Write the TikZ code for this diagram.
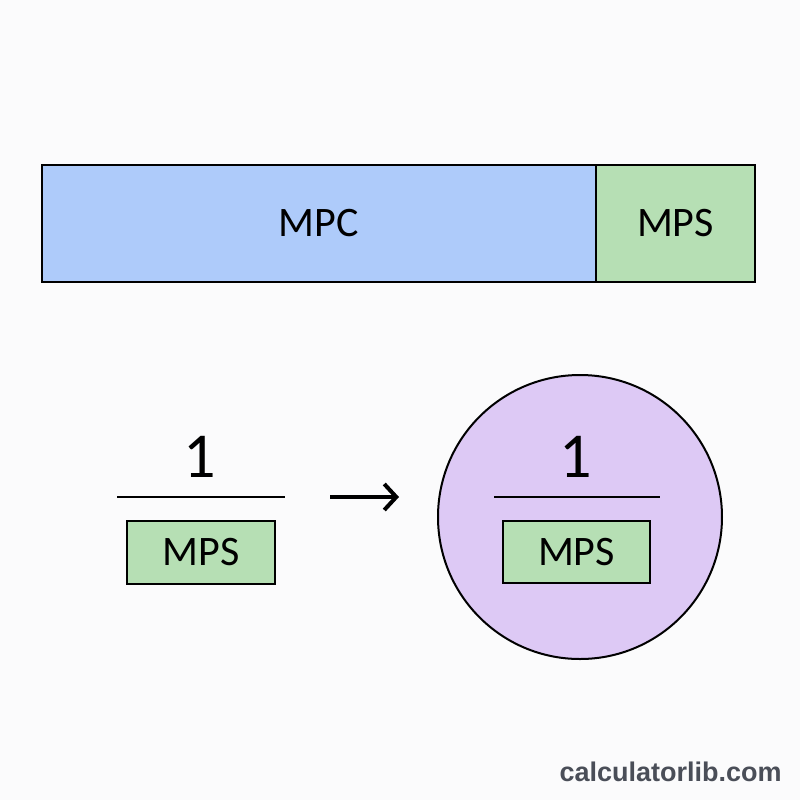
\documentclass[tikz,border=0pt]{standalone}
\usepackage{fontspec}
\setmainfont{Carlito}
\newfontfamily\markfont{Liberation Sans}
\usetikzlibrary{arrows.meta}
\definecolor{mpcBlue}{HTML}{AECBFA}
\definecolor{mpsGreen}{HTML}{B6DFB4}
\definecolor{multLilac}{HTML}{DDC9F5}
\definecolor{markGrey}{HTML}{4A4E58}
\definecolor{paper}{HTML}{FBFBFC}
\tikzset{
  bar/.style={draw=black, line width=1pt, inner sep=0pt, minimum height=58.5pt,
    font=\fontsize{21}{25}\selectfont},
  den/.style={draw=black, line width=1pt, inner sep=0pt, fill=mpsGreen,
    minimum width=74pt, minimum height=31.5pt, font=\fontsize{21}{25}\selectfont},
  num/.style={inner sep=0pt, font=\fontsize{32}{38}\selectfont},
  frac/.style={line width=1.2pt},
  conn/.style={-{Straight Barb[length=6pt, width=13pt, line width=2pt]}, line width=2pt},
}

\begin{document}
\begin{tikzpicture}[x=0.5pt, y=-0.5pt]
  \fill[paper] (0,0) rectangle (800,800);
  \useasboundingbox (0,0) rectangle (800,800);
  % the whole bar: what is spent and what is saved
  \node[bar, fill=mpcBlue, minimum width=277pt] (mpc) at (319,223.5) {MPC};
  \node[bar, fill=mpsGreen, minimum width=79.5pt] (mpsTop) at (675.5,223.5) {MPS};
  % one over the saved part
  \node[num] (oneL) at (200,456.5) {1};
  \draw[frac] (117,497) -- (285,497);
  \node[den] (mpsL) at (201,552.5) {MPS};
  % gives the multiplier
  \coordinate (arrS) at (330,497);
  \coordinate (arrE) at (399,497);
  \draw[conn] (arrS) -- (arrE);
  \node[circle, draw=black, line width=1pt, fill=multLilac, minimum size=142pt,
    inner sep=0pt] (mult) at (580,517) {};
  \node[num] (oneR) at (576,456.5) {1};
  \draw[frac] (494,497) -- (660,497);
  \node[den, minimum width=73.5pt, minimum height=31pt] (mpsR) at (576.5,552) {MPS};
  \node[anchor=east, inner sep=0pt, markGrey,
    font=\markfont\bfseries\fontsize{13.5}{16}\selectfont] (site) at (782,772) {calculatorlib.com};
\end{tikzpicture}
\end{document}
